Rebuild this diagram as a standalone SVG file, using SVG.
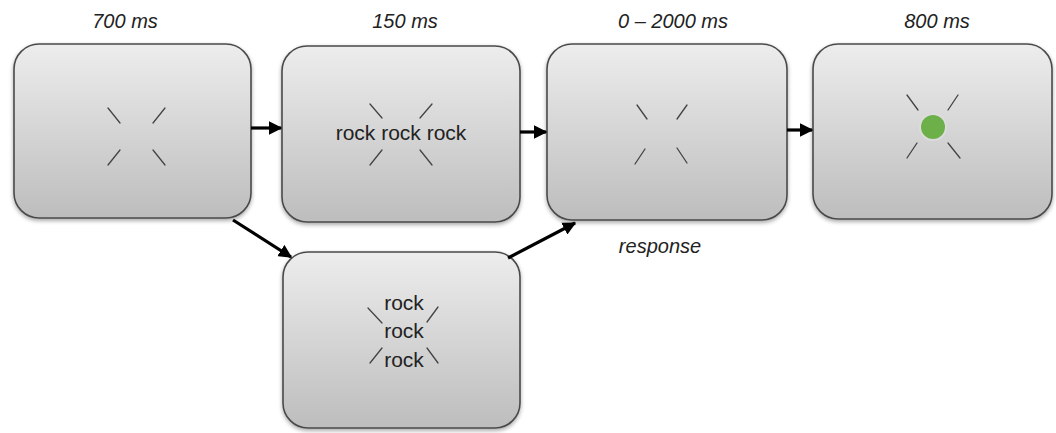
<svg xmlns="http://www.w3.org/2000/svg" width="1056" height="433" viewBox="0 0 1056 433">
  <defs>
    <linearGradient id="screenFill" x1="0" y1="0" x2="0" y2="1">
      <stop offset="0" stop-color="#ededed"/>
      <stop offset="1" stop-color="#bdbdbd"/>
    </linearGradient>
    <filter id="drop" x="-10%" y="-10%" width="120%" height="130%">
      <feGaussianBlur in="SourceAlpha" stdDeviation="2"/>
      <feOffset dx="0" dy="2" result="b"/>
      <feComponentTransfer><feFuncA type="linear" slope="0.35"/></feComponentTransfer>
      <feMerge><feMergeNode/><feMergeNode in="SourceGraphic"/></feMerge>
    </filter>
    <marker id="head" viewBox="0 0 10 10" refX="9" refY="5" markerWidth="4.2" markerHeight="4.2" orient="auto" markerUnits="strokeWidth">
      <path d="M0,0 L10,5 L0,10 z" fill="#000"/>
    </marker>
  </defs>
  <style>
    .screen { fill: url(#screenFill); stroke: #4a4a4a; stroke-width: 1.6; }
    .tick { stroke: #444; stroke-width: 1.3; stroke-linecap: round; fill: none; }
    .time { font-family: "Liberation Sans", Arial, sans-serif; font-style: italic; font-size: 20px; fill: #222; text-anchor: middle; }
    .word { font-family: "Liberation Sans", Arial, sans-serif; font-size: 21px; fill: #222; text-anchor: middle; }
    .link { stroke: #000; stroke-width: 3.2; fill: none; marker-end: url(#head); }
  </style>

  <!-- timing labels -->
  <text class="time" x="125" y="28">700 ms</text>
  <text class="time" x="405" y="28">150 ms</text>
  <text class="time" x="673" y="28">0 – 2000 ms</text>
  <text class="time" x="937" y="28">800 ms</text>
  <text class="time" x="660" y="253">response</text>

  <!-- fixation screen -->
  <g id="fixation">
    <rect class="screen" x="14" y="44" width="237" height="174" rx="25" filter="url(#drop)"/>
    <path class="tick" d="M108,108 L120,123 M165,108 L153,123 M120,150 L108,165 M153,150 L165,165"/>
  </g>

  <!-- horizontal word screen -->
  <g id="horizontal">
    <rect class="screen" x="282" y="46" width="238" height="176" rx="25" filter="url(#drop)"/>
    <path class="tick" d="M370,104 L382,118 M432,104 L420,118 M382,150 L370,165 M420,150 L432,165"/>
    <text class="word" x="401" y="140">rock rock rock</text>
  </g>

  <!-- vertical word screen -->
  <g id="vertical">
    <rect class="screen" x="283" y="252" width="237" height="176" rx="25" filter="url(#drop)"/>
    <path class="tick" d="M368,308 L382,323 M438,307 L427,322 M382,348 L370,363 M427,348 L438,363"/>
    <text class="word" x="404" y="310">rock</text>
    <text class="word" x="404" y="338">rock</text>
    <text class="word" x="404" y="367">rock</text>
  </g>

  <!-- response screen -->
  <g id="response">
    <rect class="screen" x="547" y="44" width="240" height="176" rx="25" filter="url(#drop)"/>
    <path class="tick" d="M637,105 L647,119 M687,105 L677,119 M645,149 L635,164 M677,148 L687,163"/>
  </g>

  <!-- feedback screen -->
  <g id="feedback">
    <rect class="screen" x="813" y="44" width="239" height="175" rx="25" filter="url(#drop)"/>
    <path class="tick" d="M907,95 L918,110 M958,95 L948,110 M917,143 L907,158 M948,143 L960,158"/>
    <circle cx="933" cy="127" r="14" fill="#dcdcdc"/>
    <circle cx="933" cy="127" r="12" fill="#6db04a"/>
  </g>

  <!-- connectors -->
  <g id="connectors">
    <line class="link" x1="251" y1="128" x2="281" y2="128"/>
    <line class="link" x1="520" y1="132" x2="546" y2="132"/>
    <line class="link" x1="787" y1="130" x2="812" y2="130"/>
    <line class="link" x1="233" y1="220" x2="291" y2="257"/>
    <line class="link" x1="508" y1="258" x2="575" y2="223"/>
  </g>
</svg>
